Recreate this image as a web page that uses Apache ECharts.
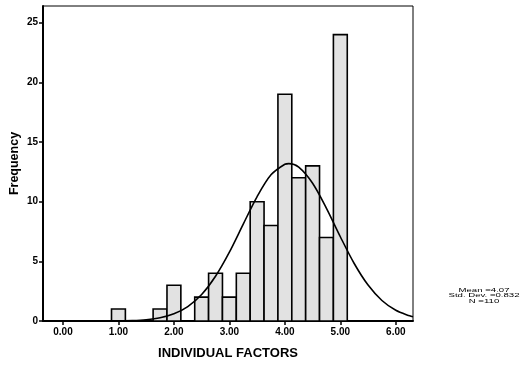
<!DOCTYPE html>
<html>
<head>
<meta charset="utf-8">
<script src="https://cdn.jsdelivr.net/npm/echarts@6/dist/echarts.min.js"></script>
<style>html,body{margin:0;padding:0;background:#fff;}#c{width:521px;height:365px;}</style>
</head>
<body>
<div id="c"></div>
<script>
// Histogram bins (bin centers) and frequencies
const binCenters = [1.00, 1.75, 2.00, 2.50, 2.75, 3.00, 3.25, 3.50, 3.75, 4.00, 4.25, 4.50, 4.75, 5.00];
const frequencies = [1, 1, 3, 2, 4, 2, 4, 10, 8, 19, 12, 13, 7, 24];
const binWidth = 0.25;

// Normal curve points
const curveX = [-0.36, 0.00, 0.50, 1.00, 1.25, 1.50, 1.75, 2.00, 2.25, 2.50, 2.75, 3.00, 3.25, 3.50, 3.75, 4.00, 4.07, 4.25, 4.50, 4.75, 5.00, 5.25, 5.50, 5.75, 6.00, 6.25, 6.31];
const curveY = [0.00, 0.00, 0.00, 0.02, 0.04, 0.11, 0.27, 0.60, 1.21, 2.22, 3.75, 5.77, 8.12, 10.43, 12.25, 13.14, 13.19, 12.89, 11.54, 9.44, 7.06, 4.82, 3.01, 1.72, 0.90, 0.43, 0.35];

// Tick labels
const xTicks = [0, 1, 2, 3, 4, 5, 6];
const yTicks = [0, 5, 10, 15, 20, 25];
const statsLines = ['Mean =4.07', 'Std. Dev. =0.832', 'N =110'];

const chart = echarts.init(document.getElementById('c'), null, {renderer: 'canvas'});
const font = 'Arial, "Liberation Sans", sans-serif';

chart.setOption({
  animation: false,
  backgroundColor: '#fff',
  grid: {left: 43, right: 108, top: 6, bottom: 44, show: true, borderColor: '#000', borderWidth: 1, containLabel: false, outerBoundsMode: 'none'},
  xAxis: {
    type: 'value', min: -0.36, max: 6.31,
    name: 'INDIVIDUAL FACTORS', nameLocation: 'middle', nameGap: 26, nameMoveOverlap: false,
    nameTextStyle: {fontFamily: font, fontWeight: 'bold', fontSize: 13, color: '#000'},
    axisLine: {show: true, onZero: false, lineStyle: {color: '#000', width: 2}},
    axisTick: {show: true, length: 4, customValues: xTicks, lineStyle: {color: '#000', width: 1.5}},
    axisLabel: {customValues: xTicks, formatter: v => v.toFixed(2), fontFamily: font, fontSize: 10, fontWeight: 'bold', color: '#000', margin: 6},
    splitLine: {show: false}
  },
  yAxis: {
    type: 'value', min: 0, max: 26.4,
    name: 'Frequency', nameLocation: 'middle', nameGap: 22, nameRotate: 90, nameMoveOverlap: false,
    nameTextStyle: {fontFamily: font, fontWeight: 'bold', fontSize: 12.5, color: '#000'},
    axisLine: {show: true, onZero: false, lineStyle: {color: '#000', width: 2}},
    axisTick: {show: true, length: 4, customValues: yTicks, lineStyle: {color: '#000', width: 1.5}},
    axisLabel: {customValues: yTicks, fontFamily: font, fontSize: 10, fontWeight: 'bold', color: '#000', margin: 5},
    splitLine: {show: false}
  },
  series: [
    {
      type: 'custom',
      z: 2,
      data: binCenters.map((c, i) => [c, frequencies[i]]),
      renderItem: function (params, api) {
        const x = api.value(0), y = api.value(1);
        const p0 = api.coord([x - binWidth / 2, y]);
        const p1 = api.coord([x + binWidth / 2, 0]);
        return {
          type: 'rect',
          shape: {x: p0[0], y: p0[1], width: p1[0] - p0[0], height: p1[1] - p0[1]},
          style: {fill: '#e2e2e2', stroke: '#000', lineWidth: 1.6}
        };
      }
    },
    {
      type: 'line',
      z: 3,
      data: curveX.map((x, i) => [x, curveY[i]]),
      showSymbol: false,
      smooth: 0.3,
      lineStyle: {color: '#000', width: 1.6}
    }
  ],
  graphic: [
    {
      type: 'text',
      x: 484, y: 287,
      scaleY: 0.64,
      style: {
        text: statsLines.join('\n'),
        fontFamily: font, fontSize: 9.6, lineHeight: 9,
        fill: '#000', align: 'center', verticalAlign: 'top'
      }
    }
  ]
});
</script>
</body>
</html>
